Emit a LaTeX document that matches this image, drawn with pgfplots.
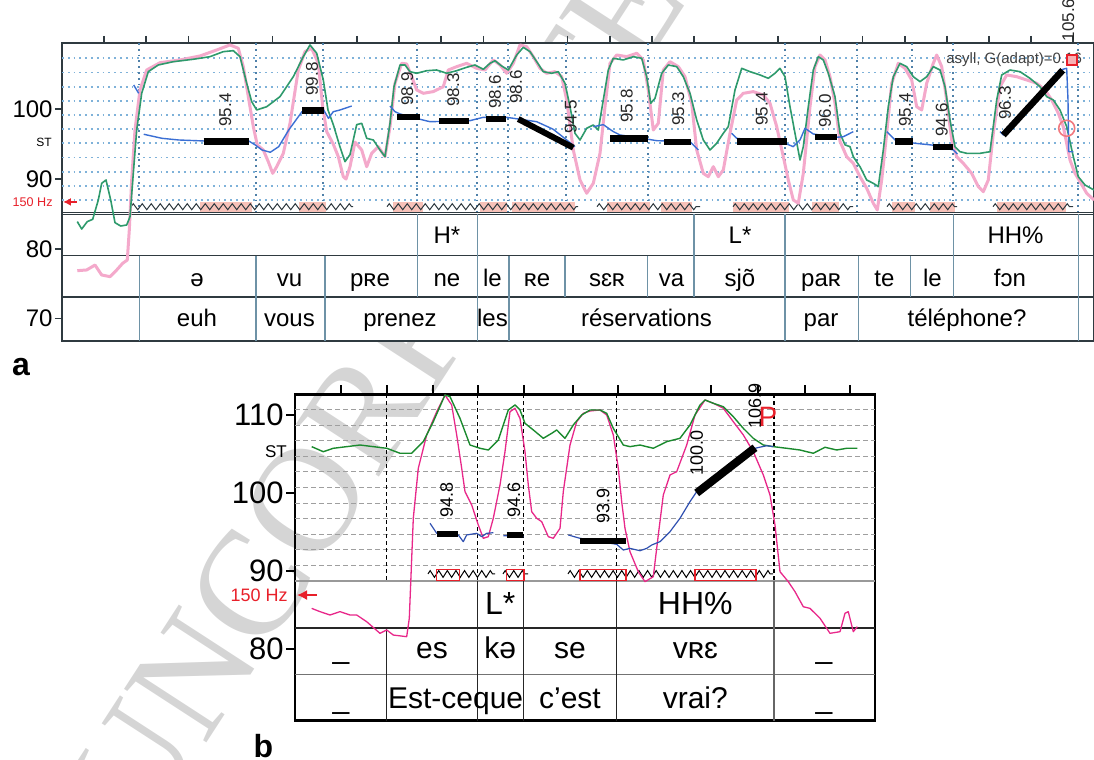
\documentclass[border=0pt]{standalone}
\usepackage{pgfplots}
\pgfplotsset{compat=1.18}
\usepackage{fontspec}
\setmainfont{Liberation Sans}
\newfontfamily\wmfont{Liberation Serif}
\usetikzlibrary{decorations.pathmorphing,arrows.meta}

\definecolor{agreen}{HTML}{2E9A6C}
\definecolor{apink}{HTML}{F4A9CB}
\definecolor{ablue}{HTML}{3B6FD4}
\definecolor{bgreen}{HTML}{1B8A2E}
\definecolor{bpink}{HTML}{E8288A}
\definecolor{bblue}{HTML}{2E4FB0}
\definecolor{hzred}{HTML}{E8202A}
\definecolor{agrid}{HTML}{7FB2D9}
\definecolor{asep}{HTML}{4F80A8}
\definecolor{aframe}{HTML}{2F3A40}
\definecolor{atab}{HTML}{6E92A6}
\definecolor{boxfill}{HTML}{F7C1B8}
\definecolor{wm}{HTML}{D5D5D5}

\newcommand\fs[1]{\fontsize{#1}{#1}\selectfont}

\tikzset{
  zigA/.style={decorate, decoration={zigzag, segment length=4.5pt, amplitude=1.5pt}, aframe, line width=0.5pt},
  zigB/.style={decorate, decoration={zigzag, segment length=4.3pt, amplitude=1.7pt}, black, line width=0.5pt},
}

\begin{document}
\begin{tikzpicture}
\path[use as bounding box] (0,0) rectangle (547pt,-380pt);

% watermark
\node[text=wm, font=\wmfont\fs{75}, rotate=57, anchor=base west, inner sep=0pt] at (72.5pt,-419pt) {UNCORRECTED PROOF};
% panel a is an opaque picture
\fill[white] (0pt,-21.5pt) rectangle (547pt,-170.5pt);

% ---------------- panel a ----------------
\begin{axis}[
  at={(31pt,-21.5pt)}, anchor=north west, scale only axis,
  width=516pt, height=149pt,
  xmin=62, xmax=1094, ymin=66.79, ymax=109.5,
  clip=false, no marks,
  axis line style={aframe, line width=1pt},
  xtick={104,146.1,188.3,230.4,272.6,314.7,356.8,399,441.1,483.3,525.4,567.5,609.7,651.8,694,736.1,778.2,820.4,862.5,904.7,946.8,988.9,1031.1,1073.2},
  xticklabels={}, xtick pos=right,
  ytick={70,80,90,100}, ytick pos=left,
  tick align=outside, major tick length=3.5pt,
  tick style={aframe, line width=0.8pt},
  yticklabel style={font=\fs{12}, inner sep=1pt},
  /pgf/number format/assume math mode=true,
  every axis plot/.append style={line join=round},
]
% grid
\pgfplotsinvokeforeach{87,89.03,91.06,93.09,95.12,97.15,99.18,101.21,103.24,105.27,107.3}{
  \draw[agrid, dotted, line width=0.9pt] (axis cs:62,#1) -- (axis cs:1094,#1);}
\pgfplotsinvokeforeach{139,256,323.3,416.7,477.3,508.3,566,648.3,785,857,912,953,1078}{
  \draw[asep, dotted, line width=0.9pt] (axis cs:#1,109.5) -- (axis cs:#1,85.2);}

% table
\draw[aframe, line width=0.6pt] (axis cs:62,85.22) -- (axis cs:1094,85.22);
\draw[aframe, line width=0.6pt] (axis cs:62,84.95) -- (axis cs:1094,84.95);
\draw[aframe, line width=0.8pt] (axis cs:62,79.02) -- (axis cs:1094,79.02);
\draw[aframe, line width=0.8pt] (axis cs:62,73.10) -- (axis cs:1094,73.10);
\pgfplotsinvokeforeach{417.3,477.3,694,785,953.3,1078.5}{
  \draw[atab, line width=0.7pt] (axis cs:#1,84.95) -- (axis cs:#1,79.02);}
\pgfplotsinvokeforeach{139.5,256,325,417.3,477.3,509,565,647.3,694,785,858.3,910.7,953.3,1078.5}{
  \draw[atab, line width=0.7pt] (axis cs:#1,79.02) -- (axis cs:#1,73.10);}
\pgfplotsinvokeforeach{139.5,256,325,477.3,509,785,858.3,1078.5}{
  \draw[atab, line width=0.7pt] (axis cs:#1,73.10) -- (axis cs:#1,66.79);}

\begin{scope}[every node/.style={font=\fs{12}, anchor=base, inner sep=0pt}]
\node at (axis cs:447,80.79) {H*};
\node at (axis cs:740,80.79) {L*};
\node at (axis cs:1015.5,80.79) {HH\%};
\node at (axis cs:197,74.57) {ə};
\node at (axis cs:289.5,74.57) {vu};
\node at (axis cs:370,74.57) {pʀe};
\node at (axis cs:447,74.57) {ne};
\node at (axis cs:492.5,74.57) {le};
\node at (axis cs:537,74.57) {ʀe};
\node at (axis cs:607,74.57) {sɛʀ};
\node at (axis cs:671.5,74.57) {va};
\node at (axis cs:740,74.57) {sjõ};
\node at (axis cs:821,74.57) {paʀ};
\node at (axis cs:884.5,74.57) {te};
\node at (axis cs:932.5,74.57) {le};
\node at (axis cs:1010,74.57) {fɔn};
\node at (axis cs:197,68.84) {euh};
\node at (axis cs:289.5,68.84) {vous};
\node at (axis cs:400,68.84) {prenez};
\node at (axis cs:492.5,68.84) {les};
\node at (axis cs:646.5,68.84) {réservations};
\node at (axis cs:821,68.84) {par};
\node at (axis cs:967,68.84) {téléphone?};
\end{scope}

% syllable boxes and zigzags
\fill[boxfill] (axis cs:200,86.71) rectangle (axis cs:252,85.3);
\fill[boxfill] (axis cs:299,86.71) rectangle (axis cs:326,85.3);
\fill[boxfill] (axis cs:393,86.71) rectangle (axis cs:423,85.3);
\fill[boxfill] (axis cs:480,86.71) rectangle (axis cs:507,85.3);
\fill[boxfill] (axis cs:512,86.71) rectangle (axis cs:575,85.3);
\fill[boxfill] (axis cs:607,86.71) rectangle (axis cs:650,85.3);
\fill[boxfill] (axis cs:661,86.71) rectangle (axis cs:692,85.3);
\fill[boxfill] (axis cs:733,86.71) rectangle (axis cs:789,85.3);
\fill[boxfill] (axis cs:812,86.71) rectangle (axis cs:839,85.3);
\fill[boxfill] (axis cs:892,86.71) rectangle (axis cs:915,85.3);
\fill[boxfill] (axis cs:930,86.71) rectangle (axis cs:955,85.3);
\fill[boxfill] (axis cs:997,86.71) rectangle (axis cs:1066,85.3);
\draw[zigA] (axis cs:131,86.04) -- (axis cs:353,86.04);
\draw[zigA] (axis cs:387,86.04) -- (axis cs:578,86.04);
\draw[zigA] (axis cs:597,86.04) -- (axis cs:700,86.04);
\draw[zigA] (axis cs:733,86.04) -- (axis cs:853,86.04);
\draw[zigA] (axis cs:887,86.04) -- (axis cs:957,86.04);
\draw[zigA] (axis cs:993,86.04) -- (axis cs:1073,86.04);

% pink curve
\addplot[apink, line width=1.5pt] coordinates {
(77.3,76.87) (86.7,76.97) (95,77.68) (101.7,76.25) (110,76.01) (116.7,76.97) (122.7,77.93) (127.3,78.4)
(129.3,82.7) (131.7,89.87) (135,97.03) (140,102.77) (146.7,105.63) (160,106.68) (180,107.07) (200,107.64)
(216.7,108.5) (230,109.22) (238.3,108.74) (243.3,106.11) (248.3,101.81) (253.3,97.51) (257.3,94.88)
(263.3,94.17) (268.3,92.49) (272.7,90.82) (276.7,91.77) (283.3,93.69) (290,97.99) (298.3,105.63)
(305,108.26) (311.7,108.74) (318.3,106.59) (322.7,100.37) (326.7,96.8) (333.3,95.0) (338.3,93.21)
(343.3,90.34) (346,90.0) (350,91.77) (355,95.3) (361.7,94.17) (366.7,91.77) (371.7,93.69) (378.3,94.64)
(385,93.21) (390,97.51) (395,103.73) (401.7,106.59) (406.7,106.49) (411.7,104.67) (416.7,102.77)
(423.3,102.29) (433.3,102.53) (443.3,103.24) (448.3,105.63) (456.7,106.11) (466.7,106.59) (476.7,105.87)
(485,105.63) (493.3,107.07) (500,106.35) (506.7,105.16) (513.3,106.59) (520,109.22) (526.7,108.97)
(533.3,107.54) (540,105.87) (546.7,105.16) (555,105.39) (561.7,104.67) (566.7,101.33) (573.3,94.17)
(580,89.87) (586.7,87.96) (593.3,89.39) (600,93.69) (605,100.37) (610,106.59) (616.7,107.78)
(626.7,107.54) (636.7,108.03) (643.3,107.07) (648.3,102.77) (653.3,97.03) (658.3,97.99) (663.3,105.63)
(670,106.82) (678.3,106.11) (685,104.67) (691.7,100.86) (696.7,94.17) (703.3,90.82) (708.3,90.34)
(713.3,91.77) (718.3,90.34) (723.3,91.3) (730,96.56) (736.7,101.33) (743.3,102.29) (753.3,102.53)
(763.3,102.05) (770,100.86) (776.7,97.51) (783.3,93.21) (788.3,89.87) (793.3,87.0) (798.3,86.53)
(803.3,90.82) (810,100.37) (815,106.11) (820,107.78) (825,107.07) (830,104.67) (835,100.86) (840,95.4)
(846.7,93.21) (853.3,92.26) (860,90.34) (866.7,88.68) (873.3,86.53) (877.3,85.57) (881.7,89.87)
(886.7,96.56) (891.7,103.73) (898.3,106.59) (905,105.87) (911.7,104.2) (916.7,100.37) (921.7,99.9)
(926.7,103.73) (933.3,106.59) (936.7,107.78) (941.7,106.11) (946.7,101.33) (951.7,95.6) (956.7,93.21)
(963.3,92.26) (971.7,90.82) (978.3,88.91) (983.3,88.19) (988.3,89.87) (993.3,96.56) (1000,103.24)
(1006.7,104.92) (1016.7,104.67) (1026.7,104.2) (1036.7,103.73) (1045,102.77) (1051.7,101.33)
(1058.3,99.43) (1063.3,97.51) (1070,92.73) (1075,90.82) (1080,89.63) (1086.7,87.96) (1094,87.0)
};
% green curve
\addplot[agreen, line width=0.8pt] coordinates {
(77.3,83.9) (81.7,82.84) (87.3,83.9) (92.7,84.23) (98.3,87.0) (101.7,89.39) (106,89.87) (110.7,87.0)
(115,83.75) (120.7,83.27) (126.7,83.42) (130,84.6) (133.3,90.82) (136.7,97.03) (141.7,102.29)
(148.3,105.39) (158.3,106.35) (173.3,106.82) (193.3,107.17) (210,107.54) (223.3,108.26) (233.3,108.4)
(240,107.54) (246.7,103.73) (251.7,101.09) (256.7,99.9) (266.7,100.37) (280,101.81) (293.3,104.67)
(303.3,107.54) (310,109.22) (316.7,108.03) (323.3,104.2) (328,99.9) (333.3,97.8) (340,94.6) (345,92.49)
(350,93.5) (356.7,97.8) (361.7,97.99) (366.7,95.84) (373.3,95.6) (380,94.17) (385,93.21) (390,97.99)
(394,103.24) (400,106.35) (405,106.35) (410,105.39) (416.7,105.16) (426.7,105.53) (436.7,105.63)
(446.7,105.16) (456.7,105.53) (466.7,106.02) (475,106.35) (483.3,105.73) (490,106.59) (495,106.96)
(501.7,106.2) (508.3,105.63) (516.7,107.78) (523.3,108.88) (530,108.26) (536.7,106.82) (543.3,105.39)
(551.7,105.16) (558.3,105.39) (565,103.73) (570,100.37) (575,96.56) (580,95.6) (586.7,97.28)
(593.3,97.75) (598.3,97.03) (603.3,101.33) (608.3,105.63) (613.3,107.31) (623.3,107.07) (633.3,107.54)
(641.7,107.31) (646.7,104.67) (650.7,100.86) (655,101.57) (661.7,105.16) (668.3,106.35) (676.7,106.11)
(683.3,104.67) (690,102.29) (696.7,98.47) (703.3,95.6) (710,94.17) (716.7,95.13) (723.3,96.56)
(728.3,97.51) (735,102.77) (741.7,105.87) (750,105.39) (760,104.92) (768.3,104.44) (775,105.16)
(780,105.87) (785,104.67) (790,100.37) (795,96.56) (800,92.73) (803.3,94.64) (808.3,100.37)
(813.3,105.63) (818.3,107.54) (823.3,107.07) (828.3,105.16) (835,101.81) (840,96.56) (845,94.9)
(850,94.64) (853.3,93.21) (860,91.77) (866.7,89.87) (873.3,89.39) (878.3,88.91) (883.3,94.17)
(888.3,100.37) (893.3,104.67) (900,106.59) (906.7,106.11) (913.3,104.67) (920,103.96) (926.7,104.67)
(933.3,106.11) (940,105.63) (945,103.24) (950,98.47) (955,94.64) (960,93.92) (966.7,93.69) (980,93.69)
(990,93.92) (996.7,101.33) (1001.7,104.92) (1010,105.63) (1020,105.39) (1030,104.44) (1040,103.24)
(1046.7,101.81) (1053.3,101.33) (1060,99.9) (1066.7,97.51) (1073.3,93.21) (1078.3,90.34) (1085,89.15)
(1094,88.43)
};
% blue curve (pieces)
\addplot[ablue, line width=0.7pt] coordinates {(133.7,103.48) (138.7,102.29)};
\addplot[ablue, line width=0.7pt] coordinates {
(143.7,96.42) (162,95.84) (178.7,95.6) (203.7,95.46) (248.7,95.46) (255.3,94.88) (262,94.17) (270.3,93.84)
(278.7,94.64) (288.7,97.03) (302,99.66) (323.7,99.9) (328.5,98.7) (333.3,99.66) (340,99.9) (351.7,100.47)};
\addplot[ablue, line width=0.7pt] coordinates {
(390,100.47) (395,99.66) (400,99.33) (420,98.57) (430,98.22) (470,98.37) (483.3,98.85) (506.7,98.85)
(520,98.57) (536.7,98.22) (553.3,97.13) (566.7,95.6) (575,94.64)};
\addplot[ablue, line width=0.7pt] coordinates {
(593.3,97.5) (603.3,97.8) (613.3,96.8) (620,96.32) (648.3,95.7) (656.7,95.5) (690,95.36) (698.3,94.17)};
\addplot[ablue, line width=0.7pt] coordinates {
(731.7,96.56) (736.7,95.84) (786.7,95.03) (793.3,94.64) (800,95.6) (805,97.28) (813.3,96.46)
(836.7,95.99) (843.3,96.07) (853.3,96.79)};
\addplot[ablue, line width=0.7pt] coordinates {
(886.7,96.79) (895,95.6) (915,95.13) (931.7,94.88) (953.3,94.17) (957.3,93.59)};
\addplot[ablue, line width=0.7pt] coordinates {
(1000,96.8) (1003.3,96.32) (1062.7,105.73) (1066.7,105.87) (1068,101.33) (1068.7,93.92) (1073.3,93.92)};

% syllable targets
\begin{scope}[line cap=butt]
\addplot[black, line width=3.3pt] coordinates {(203.7,95.4) (248.7,95.4)};
\addplot[black, line width=3.3pt] coordinates {(302,99.8) (323.7,99.8)};
\addplot[black, line width=3.3pt] coordinates {(396.7,98.9) (420,98.9)};
\addplot[black, line width=3.3pt] coordinates {(439.3,98.3) (469.3,98.3)};
\addplot[black, line width=3.3pt] coordinates {(485.7,98.6) (505.7,98.6)};
\addplot[black, line width=3pt] coordinates {(518.3,98.6) (573.3,94.5)};
\addplot[black, line width=3.3pt] coordinates {(610,95.8) (648.3,95.8)};
\addplot[black, line width=3.3pt] coordinates {(664,95.3) (690.7,95.3)};
\addplot[black, line width=3.3pt] coordinates {(736.7,95.4) (786.7,95.4)};
\addplot[black, line width=3.3pt] coordinates {(815,96.0) (836.7,96.0)};
\addplot[black, line width=3.3pt] coordinates {(895,95.4) (913.3,95.4)};
\addplot[black, line width=3.3pt] coordinates {(932.7,94.6) (952.7,94.6)};
\addplot[black, line width=3.3pt] coordinates {(1003.3,96.3) (1062.7,105.6)};
\end{scope}
\begin{scope}[every node/.style={font=\fs{8.5}, rotate=90, inner sep=0pt, text=black!85}]
\node at (axis cs:225.3,99.9) {95.4};
\node at (axis cs:312,104.34) {99.8};
\node at (axis cs:407.3,102.91) {98.9};
\node at (axis cs:453.3,102.77) {98.3};
\node at (axis cs:495,102.48) {98.6};
\node at (axis cs:516,103.2) {98.6};
\node at (axis cs:570.7,98.9) {94.5};
\node at (axis cs:626.7,100.47) {95.8};
\node at (axis cs:678.3,100.04) {95.3};
\node at (axis cs:761.7,100.04) {95.4};
\node at (axis cs:825,99.76) {96.0};
\node at (axis cs:905,99.9) {95.4};
\node at (axis cs:941.7,98.47) {94.6};
\node at (axis cs:1005,100.9) {96.3};
\node at (axis cs:1068.3,112.8) {105.6};
\end{scope}
\node[font=\fs{7.5}, anchor=base west, inner sep=0pt, text=black!75] at (axis cs:946,106.6) {asyll, G(adapt)=0.16};
\node[draw=hzred, fill=hzred!35, minimum size=5pt, inner sep=0pt, line width=0.8pt] at (axis cs:1071.7,107.07) {};
\draw[hzred!60, line width=0.8pt] (axis cs:1066.7,97.28) circle (4pt);

% labels at left
\node[font=\fs{6.3}, text=hzred, anchor=east, inner sep=0pt] at (axis cs:53,86.72) {150 Hz};
\draw[hzred, line width=0.8pt, -{Latex[length=4pt,width=4pt]}] (axis cs:77,86.72) -- (axis cs:63,86.72);
\node[font=\fs{6}, anchor=center, inner sep=0pt] at (axis cs:44,95.31) {ST};
\end{axis}

% ---------------- panel b ----------------
\begin{axis}[
  at={(147.5pt,-197.15pt)}, anchor=north west, scale only axis,
  width=290pt, height=163.2pt,
  xmin=295, xmax=875, ymin=70.81, ymax=112.65,
  clip=false, no marks,
  axis line style={black, line width=1.3pt},
  xtick={341,386.7,433.3,478.3,524,572.7,618.3,665,711,757.7,805,850},
  xticklabels={}, xtick pos=right,
  ytick={80,90,100,110}, ytick pos=left,
  tick align=outside, major tick length=4.5pt,
  tick style={black, line width=0.9pt},
  yticklabel style={font=\fs{15.5}, inner sep=1pt},
  /pgf/number format/assume math mode=true,
  every axis plot/.append style={line join=round},
]
\pgfplotsinvokeforeach{90.7,92.7,94.7,96.7,98.7,100.7,102.7,104.7,106.7,108.7,110.7}{
  \draw[gray!75, dash pattern=on 2.5pt off 1.5pt, line width=0.5pt] (axis cs:295,#1) -- (axis cs:875,#1);}
\pgfplotsinvokeforeach{386.7,477.3,523.3,616.7,774}{
  \draw[black, dash pattern=on 2pt off 1.5pt, line width=0.6pt] (axis cs:#1,112.65) -- (axis cs:#1,88.72);}

% table
\draw[gray!80, line width=0.8pt] (axis cs:295,88.72) -- (axis cs:875,88.72);
\draw[black!85, line width=1pt] (axis cs:295,82.65) -- (axis cs:875,82.65);
\draw[gray!90!black, line width=0.7pt] (axis cs:295,76.76) -- (axis cs:875,76.76);
\pgfplotsinvokeforeach{477.3,523.3,616.7}{
  \draw[black!85, line width=0.6pt] (axis cs:#1,88.72) -- (axis cs:#1,70.81);}
\draw[gray!80!black, line width=0.7pt] (axis cs:774,88.72) -- (axis cs:774,70.81);
\draw[black!85, line width=0.6pt] (axis cs:386.7,82.65) -- (axis cs:386.7,70.81);

\begin{scope}[every node/.style={font=\fs{15}, anchor=base, inner sep=0pt}]
\node[font=\fs{16}] at (axis cs:500.3,84.45) {L*};
\node[font=\fs{16}] at (axis cs:695.3,84.45) {HH\%};
\node at (axis cs:341,78.81) {\_};
\node at (axis cs:432,78.81) {es};
\node at (axis cs:500.3,78.81) {kə};
\node at (axis cs:570,78.81) {se};
\node at (axis cs:695.3,78.81) {vʀɛ};
\node at (axis cs:824,78.81) {\_};
\node at (axis cs:341,72.4) {\_};
\node at (axis cs:455.6,72.4) {Est-ceque};
\node at (axis cs:570,72.4) {c’est};
\node at (axis cs:695.3,72.4) {vrai?};
\node at (axis cs:824,72.4) {\_};
\end{scope}

% syllable boxes and zigzags
\draw[zigB] (axis cs:428,89.62) -- (axis cs:495,89.62);
\draw[zigB] (axis cs:503,89.62) -- (axis cs:528,89.62);
\draw[zigB] (axis cs:568,89.62) -- (axis cs:773,89.62);
\draw[hzred, line width=0.6pt] (axis cs:436.7,90.24) rectangle (axis cs:459.3,88.78);
\draw[hzred, line width=0.6pt] (axis cs:506.7,90.24) rectangle (axis cs:524,88.78);
\draw[hzred, line width=0.6pt] (axis cs:580,90.24) rectangle (axis cs:626,88.78);
\draw[hzred, line width=0.6pt] (axis cs:695,90.24) rectangle (axis cs:756,88.78);

% magenta curve
\addplot[bpink, line width=0.65pt] coordinates {
(311.7,85.21) (320,84.79) (330,84.36) (340,84.79) (350,84.36) (356.7,84.36) (366.7,83.5) (380,82.01)
(386.7,82.44) (393.3,81.79) (406.7,81.58) (409.3,83.94) (413.3,96.76) (418.3,103.17) (426.7,107.44)
(436.7,110.42) (445,112.56) (451.7,111.28) (456.7,107.44) (461.7,103.17) (465,100.17) (471.7,98.46)
(478.3,95.9) (483.3,94.19) (488.3,94.4) (493.3,96.76) (500,101.03) (505,105.29) (510,110.42)
(515,110.86) (520,109.57) (525,105.29) (528.3,101.03) (531.7,97.6) (536.7,96.76) (541.7,96.32)
(548.3,94.4) (553.3,94.19) (560,95.47) (563.3,100.17) (570,106.15) (576.7,109.14) (583.3,110.21)
(590,110.51) (600,110.64) (606.7,110.0) (613.3,107.44) (618.3,103.17) (621.7,98.89) (625,95.47)
(630,92.47) (638.3,89.91) (645,88.63) (653.3,89.27) (658.3,94.62) (663.3,99.74) (670,102.31)
(676.7,102.73) (686.7,106.15) (695,110.0) (705,111.92) (713.3,111.5) (723.3,110.86) (733.3,109.14)
(743.3,107.44) (753.3,105.29) (763.3,102.31) (770,99.74) (775,95.9) (780,89.91) (788.3,88.63)
(795,87.35) (803.3,85.42) (810,85.21) (820,83.94) (830,82.01) (840,82.22) (845,84.58) (848.3,84.79)
(853.3,82.22) (857.3,82.86)
};
% green curve
\addplot[bgreen, line width=0.7pt] coordinates {
(311.7,105.94) (323.3,105.29) (333.3,105.73) (346.7,105.94) (360,106.15) (373.3,105.94) (386.7,105.73)
(400,105.09) (411.7,105.09) (423.3,106.58) (433.3,109.14) (445,112.56) (450,112.35) (460,109.57)
(470,106.15) (480,105.73) (488.3,105.51) (498.3,106.79) (508.3,110.64) (515,111.28) (520,110.64)
(525,108.93) (533.3,108.08) (543.3,107.01) (551.7,107.65) (556.7,108.08) (565,107.01) (573.3,108.72)
(581.7,110.0) (590,110.64) (600,110.64) (606.7,110.21) (613.3,108.29) (623.3,106.15) (630,105.94)
(640,106.15) (646.7,105.94) (653.3,105.73) (666.7,106.58) (680,107.01) (690,108.72) (700,111.28)
(705,111.92) (713.3,111.5) (723.3,111.06) (733.3,109.78) (743.3,108.29) (753.3,107.01) (763.3,106.15)
(773.3,105.94) (786.7,105.73) (800,105.51) (813.3,105.09) (825,105.86) (836.7,105.51) (846.7,105.73)
(857.3,105.73)
};
% blue curve
\addplot[bblue, line width=0.6pt] coordinates {
(430,96.12) (436.7,94.83) (458.3,94.62) (463.3,93.76) (466.7,94.62) (476.7,94.83) (481.7,94.4)
(486.7,94.83) (493.3,94.91)};
\addplot[bblue, line width=0.6pt] coordinates {(503.3,94.53) (523.3,94.40)};
\addplot[bblue, line width=0.6pt] coordinates {
(568.3,94.62) (580,94.19) (616.7,93.42) (623.3,92.69) (630,92.9) (640,92.6) (646.7,92.9) (651.7,93.33)
(660,93.76) (670,95.04) (680,96.76) (690,98.89) (696.7,100.17) (755,105.73) (766.7,106.06) (773.3,105.94)};

\begin{scope}[line cap=butt]
\addplot[black, line width=3pt] coordinates {(436.7,94.8) (458.3,94.8)};
\addplot[black, line width=3pt] coordinates {(506.7,94.6) (523.3,94.6)};
\addplot[black, line width=3pt] coordinates {(580,93.9) (625.7,93.9)};
\addplot[black, line width=4pt] coordinates {(696.7,100.0) (755,105.8)};
\end{scope}
\begin{scope}[every node/.style={font=\fs{9}, rotate=90, inner sep=0pt}]
\node at (axis cs:446.7,99.1) {94.8};
\node at (axis cs:514,99.1) {94.6};
\node at (axis cs:603.3,98.33) {93.9};
\node at (axis cs:696.7,105.1) {100.0};
\node at (axis cs:755,111.2) {106.9};
\end{scope}
\node[font=\fs{14}, text=hzred, inner sep=0pt] at (axis cs:768,109.78) {P};

\node[font=\fs{9}, text=hzred, anchor=east, inner sep=0pt] at (axis cs:288,86.92) {150 Hz};
\draw[hzred, line width=0.8pt, -{Latex[length=5pt,width=5pt]}] (axis cs:317,86.92) -- (axis cs:297,86.92);
\node[font=\fs{8.5}, anchor=center, inner sep=0pt] at (axis cs:276,105.26) {ST};
\end{axis}

\node[font=\bfseries\fs{16}, anchor=base, inner sep=0pt] at (10.5pt,-187.5pt) {a};
\node[font=\bfseries\fs{16}, anchor=base, inner sep=0pt] at (131.75pt,-378.5pt) {b};
\end{tikzpicture}
\end{document}
